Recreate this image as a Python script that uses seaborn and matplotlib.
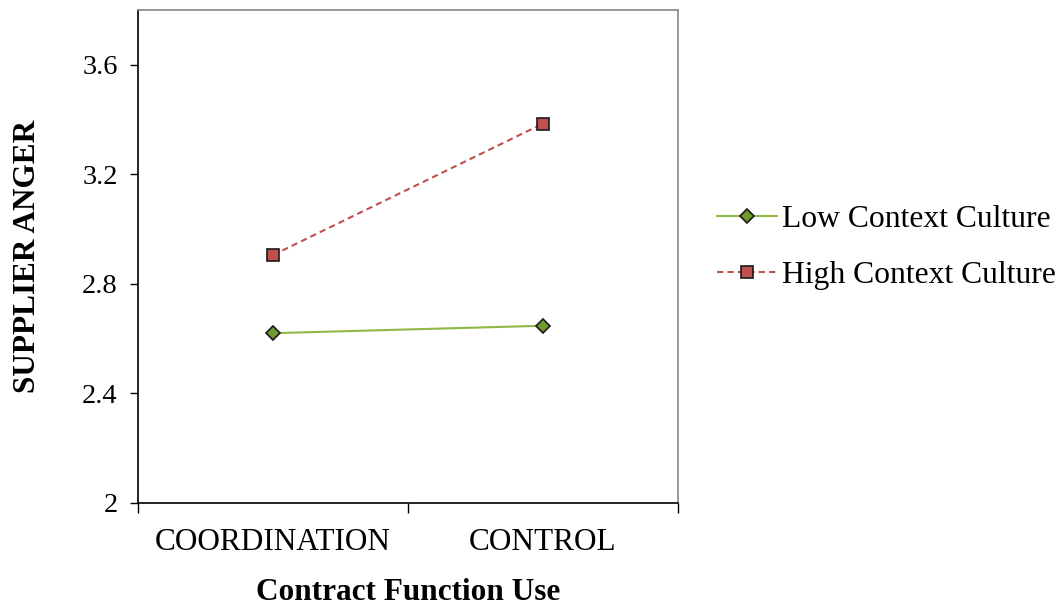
import matplotlib
matplotlib.use("Agg")
import matplotlib.pyplot as plt
import seaborn as sns
import pandas as pd
from matplotlib.ticker import FixedLocator

categories = ["COORDINATION", "CONTROL"]
low_context = [2.62, 2.647]
high_context = [2.905, 3.385]
series_names = ["Low Context Culture", "High Context Culture"]
y_ticks = [2, 2.4, 2.8, 3.2, 3.6]
y_tick_labels = ["2", "2.4", "2.8", "3.2", "3.6"]

df = pd.DataFrame({
    "function": categories * 2,
    "anger": low_context + high_context,
    "culture": [series_names[0]] * 2 + [series_names[1]] * 2,
})

sns.set_style("white")
plt.rcParams["font.family"] = ["Liberation Serif", "DejaVu Serif"]
plt.rcParams["text.color"] = "black"
plt.rcParams["xtick.color"] = "black"
plt.rcParams["ytick.color"] = "black"
plt.rcParams["axes.labelcolor"] = "black"

fig = plt.figure(figsize=(10.61, 6.08), dpi=100)
ax = fig.add_axes([0.130, 0.1727, 0.509, 0.811])

palette = {series_names[0]: "#8DB843", series_names[1]: "#C0504D"}
sns.lineplot(data=df, x="function", y="anger", hue="culture", style="culture",
             palette=palette, dashes={series_names[0]: "", series_names[1]: (3, 2)},
             markers={series_names[0]: "D", series_names[1]: "s"},
             ax=ax, lw=1.5, legend=False)

face = {series_names[0]: "#6E9A2E", series_names[1]: "#C0504D"}
for line, name in zip(ax.get_lines(), series_names):
    line.set_markerfacecolor(face[name])
    line.set_markeredgecolor("#1a1a1a")
    line.set_markeredgewidth(1.2)
    line.set_markersize(7.5 if name == series_names[0] else 8)

ax.set_xlim(-0.5, 1.5)
ax.set_ylim(2, 3.8)
ax.set_yticks(y_ticks)
ax.set_yticklabels(y_tick_labels, fontsize=20.5)
ax.set_xticks([0, 1])
ax.set_xticklabels(categories, fontsize=22.5)
ax.tick_params(axis="x", which="major", length=0, pad=18)
ax.xaxis.set_minor_locator(FixedLocator([-0.5, 0.5, 1.5]))
ax.tick_params(axis="x", which="minor", length=7, width=1, color="black", direction="out", bottom=True)
ax.tick_params(axis="y", which="major", length=6, width=1, color="black", direction="out", left=True, pad=8.5)

for side in ["left", "bottom"]:
    ax.spines[side].set_color("black")
    ax.spines[side].set_linewidth(1.2)
for side in ["top", "right"]:
    ax.spines[side].set_color("#888888")
    ax.spines[side].set_linewidth(1.2)

ax.set_xlabel("Contract Function Use", fontsize=22.5, fontweight="bold", labelpad=15)
ax.set_ylabel("SUPPLIER ANGER", fontsize=22.5, fontweight="bold", labelpad=29)

handles = [plt.Line2D([], [], color=palette[n], lw=1.5,
                      ls="-" if i == 0 else (0, (3, 2)),
                      marker="D" if i == 0 else "s",
                      markerfacecolor=face[n], markeredgecolor="#1a1a1a",
                      markersize=7 if i == 0 else 8, markeredgewidth=1.2)
           for i, n in enumerate(series_names)]
fig.legend(handles, series_names, loc="center left", bbox_to_anchor=(0.649, 0.593),
           frameon=False, fontsize=22.8, handlelength=1.9, labelspacing=0.85, handletextpad=0.15)

fig.savefig("out.png", dpi=100)
